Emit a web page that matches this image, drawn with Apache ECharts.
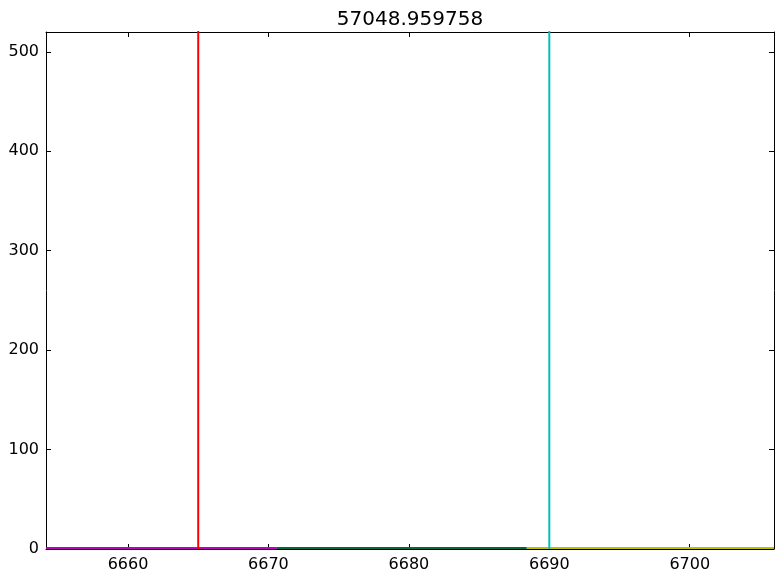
<!DOCTYPE html>
<html>
<head>
<meta charset="utf-8">
<script src="https://cdn.jsdelivr.net/npm/echarts@6/dist/echarts.min.js"></script>
<style>html,body{margin:0;padding:0;background:#fff}#c{width:784px;height:584px}</style>
</head>
<body>
<div id="c"></div>
<script>
const titleText = "57048.959758";
const xTicks = [6660, 6670, 6680, 6690, 6700];
const yTicks = [0, 100, 200, 300, 400, 500];
const xRange = [6654.16, 6706];
const yRange = [0, 520];
const redLine = [[6665, 0], [6665, 600]];
const cyanLine = [[6690, 0], [6690, 600]];
const magentaLine = [[6654.16, 1], [6670.6, 1]];
const greenLine = [[6670.6, 1], [6688.4, 1]];
const yellowLine = [[6688.4, 1], [6706, 1]];

const chart = echarts.init(document.getElementById('c'), null, {renderer: 'canvas'});
const font = 'DejaVu Sans';
function mkLine(name, data, color) {
  return {name, type: 'line', data, showSymbol: false, symbol: 'none', clip: true,
    lineStyle: {color, width: 2}, itemStyle: {color}, animation: false, z: 3};
}
const fmt = v => String(v);
const axisLine = {show: true, onZero: false, lineStyle: {color: '#000', width: 1}};
function tick(vals) {
  return {show: true, inside: true, length: 5, customValues: vals, lineStyle: {color: '#000'}};
}
chart.setOption({
  animation: false,
  title: {text: titleText, left: 405, textAlign: 'center', top: 5, textStyle: {fontFamily: font, fontSize: 20, fontWeight: 'normal', color: '#000'}},
  grid: {left: 46, right: 10, top: 32, bottom: 35, containLabel: false},
  xAxis: [
    {type: 'value', min: xRange[0], max: xRange[1], position: 'bottom', axisLine, splitLine: {show: false},
      axisLabel: {show: true, customValues: xTicks, formatter: fmt, fontFamily: font, fontSize: 16, color: '#000', margin: 8},
      axisTick: tick(xTicks)},
    {type: 'value', min: xRange[0], max: xRange[1], position: 'top', axisLine, splitLine: {show: false},
      axisLabel: {show: false}, axisTick: tick(xTicks)}
  ],
  yAxis: [
    {type: 'value', min: yRange[0], max: yRange[1], position: 'left', axisLine, splitLine: {show: false},
      axisLabel: {show: true, customValues: yTicks, formatter: fmt, fontFamily: font, fontSize: 16, color: '#000', margin: 7},
      axisTick: tick(yTicks)},
    {type: 'value', min: yRange[0], max: yRange[1], position: 'right', axisLine, splitLine: {show: false},
      axisLabel: {show: false}, axisTick: tick(yTicks)}
  ],
  series: [
    mkLine('magenta', magentaLine, '#bf00bf'),
    mkLine('green', greenLine, '#006a3a'),
    mkLine('yellow', yellowLine, '#bfbf00'),
    mkLine('red', redLine, '#ff0000'),
    mkLine('cyan', cyanLine, '#00bfbf')
  ]
});
</script>
</body>
</html>
